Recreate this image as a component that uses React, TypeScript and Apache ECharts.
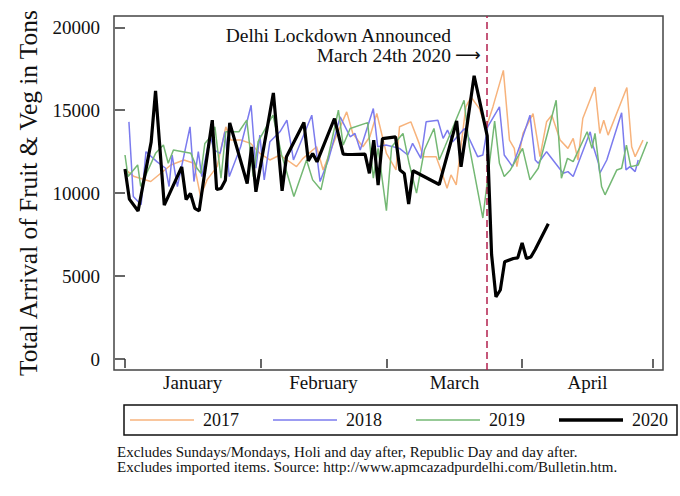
import React, { useEffect, useRef } from "react";
import * as echarts from "echarts";

const FONT = "'Liberation Serif', 'Times New Roman', serif";

const years = ["2017", "2018", "2019", "2020"];
const colors = ["#F7B37C", "#7B7BEE", "#74B874", "#000000"];

const monthTicks = [0, 31, 60, 91, 121];
const monthMids = [15.5, 45.5, 75.5, 106];
const monthNames = ["January", "February", "March", "April"];
const yTicks = [0, 5000, 10000, 15000, 20000];
const lockdownDay = 83;

// day index (Jan 1 = 0) and arrivals in tons
const days2017 = [0.2, 2.1, 5.9, 10.5, 13.5, 15.8, 17.3, 18.8, 21.1, 23.1, 24.2, 26.5, 28.8, 30.9, 33.2, 35.5, 39.3, 40.8, 43.9, 45.4, 48.5, 50.8, 52.2, 54.5, 56.1, 57.7, 59.9, 62.1, 62.9, 65.5, 67.4, 68.3, 71.3, 72.4, 73.8, 74.7, 75.9, 78.1, 79.3, 81.2, 82.7, 84.3, 86.7, 88.1, 89.2, 89.8, 91.2, 93.5, 95.1, 96.6, 97.8, 99.7, 101.5, 102.7, 103.8, 104.9, 107.7, 108.8, 109.7, 110.7, 115.0, 116.1, 116.9, 118.7];
const tons2017 = [11400, 11000, 10700, 11700, 12000, 11800, 9800, 10800, 11600, 14000, 13200, 13200, 13000, 12400, 12000, 12300, 11600, 12100, 12800, 11400, 13500, 14900, 13600, 12800, 13400, 14800, 12400, 11400, 14000, 14300, 13000, 12200, 12200, 11400, 10300, 11100, 10500, 15200, 15800, 15100, 13900, 15200, 17400, 13200, 12700, 11600, 13600, 14800, 12200, 14300, 14700, 13200, 12700, 13300, 12000, 14500, 16400, 13600, 14400, 13500, 16370, 12800, 12200, 13200];

const days2018 = [0.9, 1.9, 3.7, 4.8, 7.3, 9.3, 10.1, 10.8, 12.0, 14.9, 15.8, 16.8, 17.6, 19.5, 20.4, 21.8, 22.9, 23.9, 26.5, 28.9, 30.0, 30.9, 31.9, 33.2, 35.5, 37.1, 38.6, 42.8, 44.7, 46.6, 49.3, 51.6, 52.7, 53.9, 56.9, 57.9, 59.8, 62.9, 64.8, 65.9, 67.8, 69.0, 71.7, 72.9, 73.9, 75.1, 77.8, 80.8, 82.0, 83.1, 85.8, 86.9, 88.8, 90.4, 92.8, 94.0, 94.7, 96.6, 100.4, 101.5, 102.7, 106.6, 107.2, 108.5, 108.8, 110.4, 113.8, 114.8, 115.7, 116.9, 117.6];
const tons2018 = [14300, 9800, 9300, 12500, 11900, 11500, 10400, 12300, 10400, 14000, 10700, 12500, 11000, 13500, 12600, 12400, 13700, 11000, 12800, 15300, 11500, 13500, 10800, 13100, 13700, 14400, 12000, 14700, 10700, 12000, 14600, 13400, 13600, 12600, 15100, 12800, 12900, 12700, 12300, 13000, 12100, 14300, 14400, 13300, 13800, 13100, 13900, 12200, 12300, 14000, 15200, 12300, 11600, 12800, 14700, 12000, 11800, 12500, 11200, 11300, 11000, 13700, 12900, 11800, 11200, 12000, 14850, 11400, 11600, 11300, 12000];

const days2019 = [0.0, 0.7, 2.9, 3.6, 7.0, 8.8, 9.9, 11.1, 15.1, 16.5, 17.4, 18.3, 19.6, 20.6, 22.0, 23.1, 26.1, 27.9, 29.4, 30.5, 33.9, 35.9, 38.7, 41.6, 43.0, 44.9, 48.9, 50.0, 51.6, 55.6, 56.9, 58.0, 59.9, 61.1, 63.7, 65.1, 66.8, 68.6, 70.8, 72.0, 73.3, 77.7, 78.9, 82.0, 84.7, 85.8, 86.9, 88.3, 91.1, 92.8, 94.7, 98.8, 100.0, 101.4, 102.7, 105.9, 107.0, 107.7, 109.2, 110.0, 112.7, 113.8, 114.9, 115.9, 117.6, 119.7];
const tons2019 = [12300, 11000, 11700, 10400, 12400, 12900, 11800, 12600, 12400, 11500, 11200, 13000, 13400, 14000, 10900, 13700, 13700, 14400, 11000, 13100, 14700, 12300, 9800, 12000, 10800, 10200, 15000, 12900, 13900, 14250, 10900, 12700, 8950, 12800, 13600, 11800, 10000, 12600, 13900, 12000, 12800, 15600, 12800, 8500, 14350, 11800, 11000, 11400, 12700, 10800, 11500, 15600, 10900, 12100, 11900, 13700, 12700, 13600, 10400, 9900, 11400, 11500, 12900, 11600, 11700, 13100];

const days2020 = [0, 1, 3, 6, 7, 9, 13, 14, 15, 16, 17, 20, 21, 22, 23, 24, 28, 29, 30, 34, 36, 37, 41, 42, 43, 44, 48, 50, 51, 52, 55, 56, 57, 58, 59, 62, 63, 64, 65, 66, 72, 76, 77, 78, 80, 83, 84, 85, 86, 87, 89, 90, 91, 92, 93, 94, 97];
const tons2020 = [11450, 9640, 8920, 13090, 16160, 9280, 11580, 9620, 9980, 9080, 8930, 14400, 10220, 10280, 10780, 14240, 10580, 12790, 10080, 16040, 10140, 12190, 14260, 11950, 12390, 11890, 14500, 12350, 12330, 12330, 12350, 11190, 13190, 10480, 13290, 13390, 11390, 11190, 9340, 11350, 10520, 14360, 11590, 13390, 17080, 13450, 6300, 3750, 4160, 5860, 6060, 6100, 7000, 6060, 6150, 6600, 8150];

const allDays = [days2017, days2018, days2019, days2020];
const allTons = [tons2017, tons2018, tons2019, tons2020];
const lineWidths = [1.5, 1.5, 1.5, 3.2];

const footer1 = "Excludes Sundays/Mondays, Holi and day after, Republic Day and day after.";
const footer2 = "Excludes imported items. Source: http://www.apmcazadpurdelhi.com/Bulletin.htm.";

export default function App() {
  const ref = useRef<HTMLDivElement>(null);

  useEffect(() => {
    const chart = echarts.init(ref.current!, undefined, { renderer: "svg" });
    const series: any[] = years.map((y, i) => ({
      name: y,
      type: "line",
      data: allDays[i].map((d, j) => [d, allTons[i][j]]),
      symbol: "none",
      showSymbol: false,
      lineStyle: { color: colors[i], width: lineWidths[i] },
      itemStyle: { color: colors[i] },
      z: 2 + i,
    }));
    series[3].markLine = {
      silent: true,
      symbol: ["none", "none"],
      label: { show: false },
      lineStyle: { color: "#B3204D", width: 1.5, type: [7, 4] },
      data: [{ xAxis: lockdownDay }],
    };

    chart.setOption({
      animation: false,
      backgroundColor: "#ffffff",
      textStyle: { fontFamily: FONT },
      grid: {
        left: 114,
        right: 17,
        top: 16,
        bottom: 126,
        show: true,
        borderColor: "#444444",
        borderWidth: 1.5,
        backgroundColor: "#ffffff",
      },
      xAxis: {
        type: "value",
        min: -2.52,
        max: 123.28,
        offset: 1,
        axisLine: { show: false },
        splitLine: { show: false },
        axisTick: {
          show: true,
          length: 9,
          customValues: monthTicks,
          lineStyle: { color: "#333", width: 1.5 },
        },
        axisLabel: {
          customValues: monthMids,
          formatter: (v: number) => monthNames[monthMids.indexOf(v)] ?? "",
          margin: 2,
          fontSize: 19,
          fontFamily: FONT,
          color: "#111",
        },
      },
      yAxis: {
        type: "value",
        min: -663,
        max: 20681,
        axisLine: { show: false },
        splitLine: { show: false },
        axisTick: {
          show: true,
          length: 10,
          customValues: yTicks,
          lineStyle: { color: "#333", width: 1.5 },
        },
        axisLabel: {
          customValues: yTicks,
          formatter: (v: number) => String(Math.round(v)),
          margin: 14,
          fontSize: 19,
          fontFamily: FONT,
          color: "#111",
        },
        name: "Total Arrival of Fruit & Veg in Tons",
        nameLocation: "middle",
        nameGap: 74,
        nameTextStyle: { fontSize: 25.4, fontFamily: FONT, color: "#111" },
      },
      legend: {
        data: years.map((y, i) => ({
          name: y,
          icon: i === 3 ? "path://M0,0h64v3.4h-64z" : "path://M0,0h64v1.5h-64z",
        })),
        left: 124,
        top: 405,
        orient: "horizontal",
        itemWidth: 64,
        itemHeight: 14,
        itemGap: 34,
        symbolKeepAspect: true,
        padding: [6, 9, 6, 6],
        borderColor: "#111",
        borderWidth: 1.5,
        textStyle: { fontSize: 18, fontFamily: FONT, color: "#111", padding: [0, 0, 0, 4] },
      },
      graphic: [
        {
          type: "text",
          style: {
            x: 451,
            y: 35,
            text: "Delhi Lockdown Announced",
            textAlign: "right",
            textVerticalAlign: "middle",
            font: `19.5px ${FONT}`,
            fill: "#111",
          },
        },
        {
          type: "text",
          style: {
            x: 451,
            y: 55,
            text: "March 24th 2020",
            textAlign: "right",
            textVerticalAlign: "middle",
            font: `19.5px ${FONT}`,
            fill: "#111",
          },
        },
        {
          type: "text",
          style: {
            x: 455,
            y: 54,
            text: "\u27F6",
            textAlign: "left",
            textVerticalAlign: "middle",
            font: `18px 'DejaVu Sans', sans-serif`,
            fill: "#111",
          },
        },
        {
          type: "text",
          style: {
            x: 117,
            y: 452,
            text: footer1,
            textAlign: "left",
            textVerticalAlign: "middle",
            font: `15px ${FONT}`,
            fill: "#111",
          },
        },
        {
          type: "text",
          style: {
            x: 117,
            y: 467,
            text: footer2,
            textAlign: "left",
            textVerticalAlign: "middle",
            font: `15px ${FONT}`,
            fill: "#111",
          },
        },
      ],
      series,
    });
    return () => chart.dispose();
  }, []);

  return (
    <div
      ref={ref}
      style={{ position: "fixed", left: 0, top: 0, width: 680, height: 496 }}
    />
  );
}
